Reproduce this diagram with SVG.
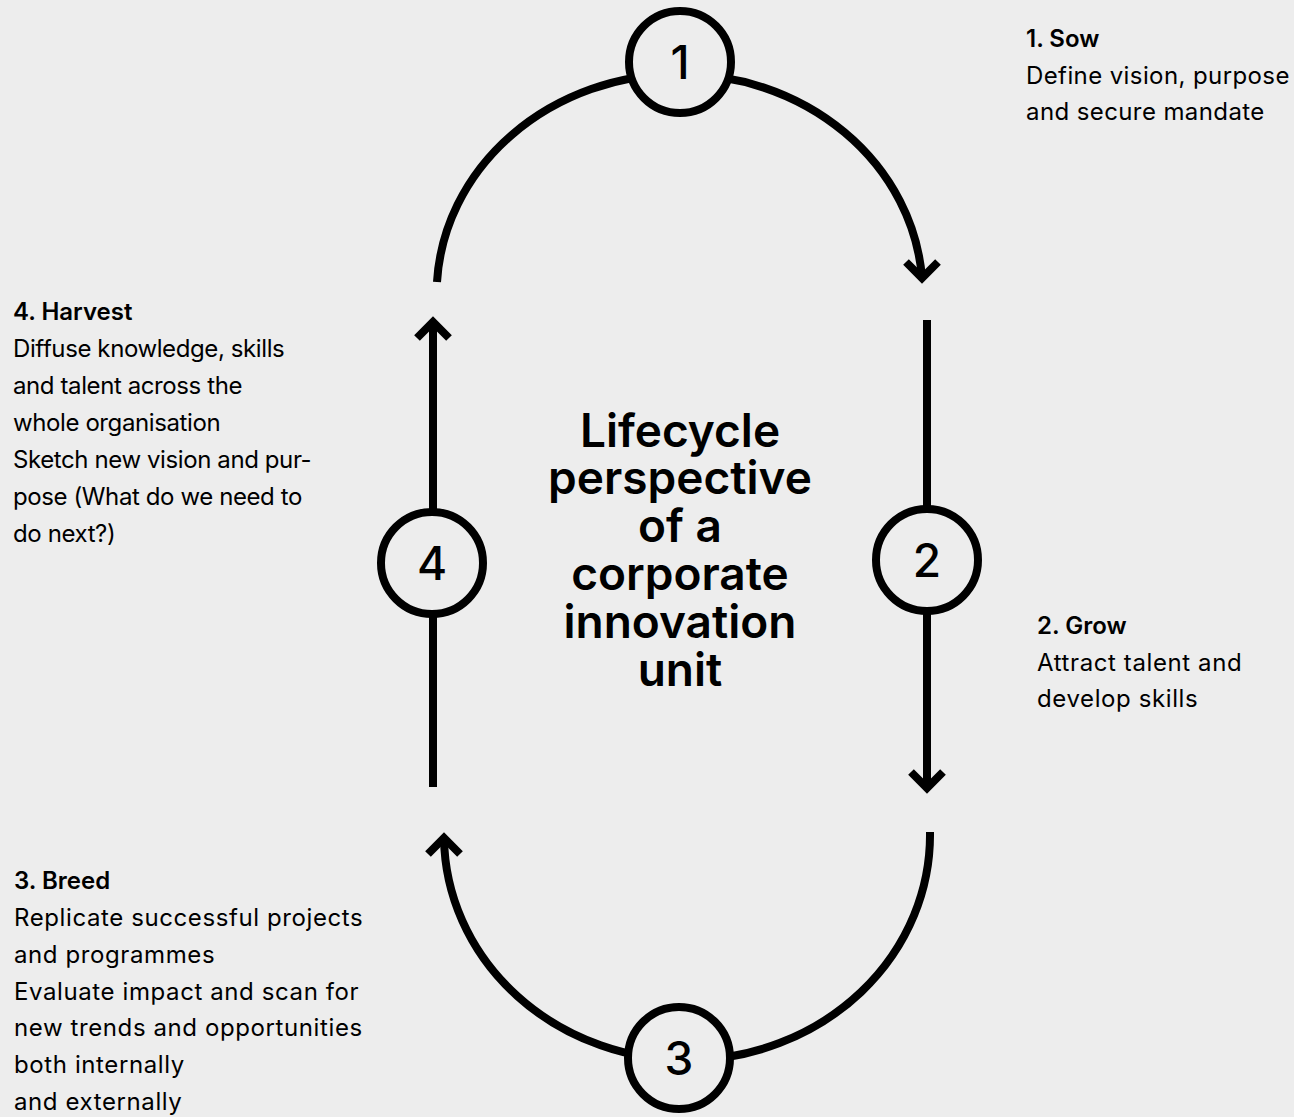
<svg xmlns="http://www.w3.org/2000/svg" width="1294" height="1117" viewBox="0 0 1294 1117">
<style>
.ln{fill:none;stroke:#000;stroke-width:8;}
.ah{fill:none;stroke:#000;stroke-width:8;stroke-linecap:butt;stroke-linejoin:miter;}
.nd{fill:#ededed;stroke:#000;stroke-width:8;}
.num{font-family:Inter,"Liberation Sans",sans-serif;font-size:46px;font-weight:500;fill:#000;text-anchor:middle;}
.title{font-family:Inter,"Liberation Sans",sans-serif;font-size:46px;font-weight:600;fill:#000;text-anchor:middle;}
.lbl{font-family:Inter,"Liberation Sans",sans-serif;font-size:24px;fill:#000;letter-spacing:0.6px;}
.hd{font-weight:600;letter-spacing:0px;}
.tight{letter-spacing:-0.4px;}
.l1{letter-spacing:0.4px;}
</style>
<rect width="1294" height="1117" fill="#ededed"/>
<g id="connectors">
  <path class="ln" d="M437 282 A243 220 0 0 1 922 278"/>
  <polyline class="ah" points="906,262 922,278 938,262"/>
  <line class="ln" x1="927" y1="320" x2="927" y2="788"/>
  <polyline class="ah" points="911,772 927,788 943,772"/>
  <path class="ln" d="M930 832 A243 225 0 0 1 444 838"/>
  <polyline class="ah" points="428,854 444,838 460,854"/>
  <line class="ln" x1="433" y1="787" x2="433" y2="322"/>
  <polyline class="ah" points="417,338 433,322 449,338"/>
</g>
<g id="node1"><circle class="nd" cx="680" cy="62" r="51"/><text class="num" x="680" y="79">1</text></g>
<g id="node2"><circle class="nd" cx="927" cy="560" r="51"/><text class="num" x="927" y="577">2</text></g>
<g id="node3"><circle class="nd" cx="679" cy="1058" r="51"/><text class="num" x="679" y="1075">3</text></g>
<g id="node4"><circle class="nd" cx="432" cy="563" r="51"/><text class="num" x="432" y="580">4</text></g>
<g id="title">
  <text class="title" x="680" y="447">Lifecycle</text>
  <text class="title" x="680" y="494">perspective</text>
  <text class="title" x="680" y="542">of a</text>
  <text class="title" x="680" y="590">corporate</text>
  <text class="title" x="680" y="638">innovation</text>
  <text class="title" x="680" y="686">unit</text>
</g>
<g id="label1" class="lbl">
  <text x="1026" y="47" class="hd">1. Sow</text>
  <text x="1026" y="84" class="l1">Define vision, purpose</text>
  <text x="1026" y="120" class="l1">and secure mandate</text>
</g>
<g id="label2" class="lbl">
  <text x="1037" y="634" class="hd">2. Grow</text>
  <text x="1037" y="671">Attract talent and</text>
  <text x="1037" y="707">develop skills</text>
</g>
<g id="label3" class="lbl">
  <text x="14" y="889" class="hd">3. Breed</text>
  <text x="14" y="926">Replicate successful projects</text>
  <text x="14" y="963">and programmes</text>
  <text x="14" y="1000">Evaluate impact and scan for</text>
  <text x="14" y="1036">new trends and opportunities</text>
  <text x="14" y="1073">both internally</text>
  <text x="14" y="1110">and externally</text>
</g>
<g id="label4" class="lbl">
  <text x="13" y="320" class="hd">4. Harvest</text>
  <text x="13" y="357" class="tight">Diffuse knowledge, skills</text>
  <text x="13" y="394" class="tight">and talent across the</text>
  <text x="13" y="431" class="tight">whole organisation</text>
  <text x="13" y="468" class="tight">Sketch new vision and pur-</text>
  <text x="13" y="505" class="tight">pose (What do we need to</text>
  <text x="13" y="542" class="tight">do next?)</text>
</g>
</svg>
